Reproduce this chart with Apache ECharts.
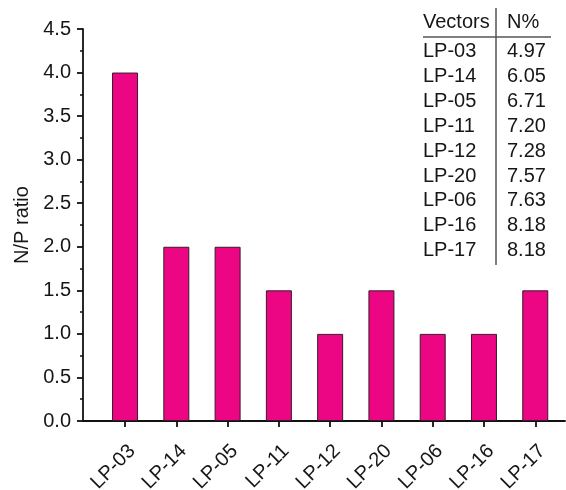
<!DOCTYPE html>
<html>
<head>
<meta charset="utf-8">
<script src="https://cdn.jsdelivr.net/npm/echarts@6/dist/echarts.min.js"></script>
<style>
  html, body { margin: 0; padding: 0; background: #fff; }
  #chart { width: 566px; height: 490px; }
</style>
</head>
<body>
<div id="chart"></div>
<script>
// Vectors along the x axis and their N/P ratios
const vectors = ['LP-03', 'LP-14', 'LP-05', 'LP-11', 'LP-12', 'LP-20', 'LP-06', 'LP-16', 'LP-17'];
const npRatio = [4.0, 2.0, 2.0, 1.5, 1.0, 1.5, 1.0, 1.0, 1.5];
// N% for each vector, shown in the inset table
const nPercent = ['4.97', '6.05', '6.71', '7.20', '7.28', '7.57', '7.63', '8.18', '8.18'];
const tableHeader = ['Vectors', 'N%'];

const FONT = '"Liberation Sans", Arial, sans-serif';
const FONT_SIZE = 20;
const TEXT = '#161616';

const chart = echarts.init(document.getElementById('chart'), null, { renderer: 'canvas' });

// positions 1..n on a numeric axis so the axis can run past the first/last bar
const positions = vectors.map((_, i) => i + 1);

// inset table built from the arrays above
function buildTable() {
  const left = 423, valueLeft = 507, headerY = 22.5, firstRowY = 51.5, rowStep = 24.9;
  const els = [];
  const txt = (x, y, s) => ({
    type: 'text', x: x, y: y,
    style: { text: s, font: FONT_SIZE + 'px ' + FONT, fill: TEXT, textVerticalAlign: 'middle', textAlign: 'left' }
  });
  els.push(txt(left, headerY, tableHeader[0]));
  els.push(txt(valueLeft, headerY, tableHeader[1]));
  vectors.forEach((v, i) => {
    els.push(txt(left, firstRowY + rowStep * i, v));
    els.push(txt(valueLeft, firstRowY + rowStep * i, nPercent[i]));
  });
  els.push({ type: 'line', shape: { x1: 423, y1: 37, x2: 551, y2: 37 }, style: { stroke: '#555', lineWidth: 1.5 } });
  els.push({ type: 'line', shape: { x1: 496, y1: 8, x2: 496, y2: 265 }, style: { stroke: '#555', lineWidth: 1.5 } });
  return els;
}

chart.setOption({
  animation: false,
  backgroundColor: '#fff',
  grid: { left: 83, top: 29, right: 1, bottom: 69, containLabel: false, outerBoundsMode: 'none' },
  xAxis: {
    type: 'value',
    min: 0.18,
    max: 9.58,
    splitLine: { show: false },
    axisLine: { show: true, onZero: false, lineStyle: { color: '#111', width: 1.8 } },
    axisTick: { show: true, customValues: positions, length: 6, lineStyle: { color: '#111', width: 1.8 } },
    axisLabel: {
      customValues: positions,
      rotate: 45,
      margin: 20,
      align: 'right',
      verticalAlign: 'top',
      hideOverlap: false,
      fontFamily: FONT, fontSize: FONT_SIZE, color: TEXT,
      formatter: v => vectors[Math.round(v) - 1] || ''
    }
  },
  yAxis: {
    type: 'value',
    min: 0,
    max: 4.5,
    interval: 0.5,
    name: 'N/P ratio',
    nameLocation: 'middle',
    nameGap: 50,
    nameTextStyle: { fontFamily: FONT, fontSize: FONT_SIZE, color: TEXT },
    splitLine: { show: false },
    axisLine: { show: true, lineStyle: { color: '#111', width: 1.8 } },
    axisTick: { show: true, length: 6, lineStyle: { color: '#111', width: 1.8 } },
    minorTick: { show: true, splitNumber: 2, length: 3, lineStyle: { color: '#111', width: 1.5 } },
    axisLabel: {
      margin: 12,
      fontFamily: FONT, fontSize: FONT_SIZE, color: TEXT,
      formatter: v => v.toFixed(1)
    }
  },
  series: [{
    type: 'bar',
    barWidth: 26,
    data: positions.map((p, i) => [p, npRatio[i]]),
    itemStyle: { color: '#EC0683', borderColor: '#3a1a2a', borderWidth: 1 }
  }],
  graphic: buildTable()
});
</script>
</body>
</html>
